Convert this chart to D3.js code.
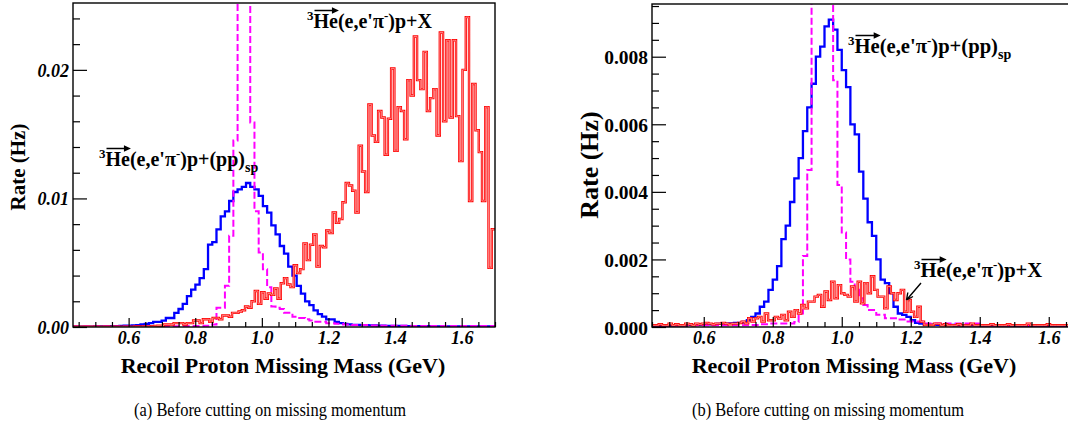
<!DOCTYPE html>
<html><head><meta charset="utf-8">
<script src="https://cdn.jsdelivr.net/npm/d3@7"></script>
<style>
body{margin:0;background:#fff;}
svg{display:block;font-family:"Liberation Serif","Times New Roman",serif;}
</style></head><body>
<svg id="fig" width="1068" height="432"></svg>
<script>
// ---- axis ranges -------------------------------------------------------
const massRangeA = [0.433, 1.7];
const massRangeB = [0.45, 1.7];
const rateMaxA = 0.0252;
const rateMaxB = 0.00956;

const xTickValues = [0.6, 0.8, 1.0, 1.2, 1.4, 1.6];
const yTickValuesA = [0.00, 0.01, 0.02];
const yTickValuesB = [0.000, 0.002, 0.004, 0.006, 0.008];

// ---- panel (a): before cutting on missing momentum ----------------------
// 3He(e,e'pi-)p+(pp)sp, reconstructed (100 bins)
const spectatorRecoA = [
  0.00002,0.00002,0.00003,0.00003,0.00003,0.00004,0.00004,0.00005,0.00005,0.00006,
  0.00007,0.00008,0.0001,0.00011,0.00012,0.00015,0.0002,0.00025,0.0003,0.0004,
  0.0004,0.0005,0.0007,0.0007,0.0011,0.0014,0.0018,0.0024,0.0029,0.0033,
  0.0038,0.0045,0.0064,0.0066,0.0076,0.0086,0.0090,0.0098,0.0105,0.0107,
  0.0109,0.0112,0.0109,0.0107,0.0102,0.0094,0.0089,0.0079,0.0072,0.0063,
  0.0057,0.0047,0.0040,0.0032,0.0026,0.0020,0.0017,0.0013,0.0010,0.0008,
  0.0006,0.0006,0.0004,0.0003,0.00025,0.0002,0.00016,0.00016,0.00015,0.00014,
  0.00013,0.00012,0.00011,0.0001,0.00009,0.00009,0.00008,0.00008,0.00008,0.00007,
  0.00007,0.00007,0.00006,0.00006,0.00006,0.00006,0.00005,0.00005,0.00005,0.00005,
  0.00005,0.00005,0.00004,0.00004,0.00004,0.00004,0.00004,0.00004,0.00004,0.00004
];
// 3He(e,e'pi-)p+(pp)sp, generated (100 bins)
const spectatorGenA = [
  0.00004,0.00004,0.00004,0.00004,0.00004,0.00004,0.00004,0.00004,0.00004,0.00004,
  0.00004,0.00004,0.00004,0.00004,0.00004,0.00004,0.00005,0.00005,0.00005,0.00005,
  0.00005,0.00005,0.00005,0.00006,0.00006,0.00006,0.00006,0.00007,0.00007,0.00008,
  0.00008,0.0001,0.0001,0.0002,0.0015,0.0015,0.0032,0.0071,0.0145,0.034,
  0.041,0.037,0.0159,0.0090,0.0058,0.0045,0.0031,0.0016,0.0015,0.0014,
  0.0011,0.0011,0.0008,0.0007,0.0007,0.0006,0.0005,0.0004,0.0004,0.0004,
  0.0003,0.0003,0.00025,0.00025,0.0002,0.0002,0.00015,0.00015,0.00015,0.00015,
  0.00012,0.00012,0.00012,0.0001,0.0001,0.0001,0.0001,0.00009,0.00009,0.00009,
  0.00008,0.00008,0.00008,0.00008,0.00008,0.00008,0.00007,0.00007,0.00007,0.00007,
  0.00007,0.00007,0.00007,0.00007,0.00007,0.00007,0.00007,0.00007,0.00007,0.00007
];
// 3He(e,e'pi-)p+X (130 bins)
const inclusiveA = [
  0.00002,0.00002,0.00002,0.00002,0.00002,0.00002,0.00002,0.00002,0.00002,0.00002,
  0.00002,0.00002,0.00002,0.00002,0.00002,0.00003,0.00003,0.00003,0.00003,0.00004,
  0.00004,0.00004,0.00005,0.00005,0.00006,0.00008,0.0001,0.0001,0.0002,0.0002,
  0.0002,0.0003,0.0003,0.0003,0.0002,0.0003,0.0003,0.0005,0.0005,0.0003,
  0.0006,0.0006,0.0004,0.0007,0.0007,0.0006,0.0009,0.0009,0.0008,0.0011,
  0.0011,0.0012,0.0013,0.0016,0.0015,0.0020,0.0028,0.0018,0.0027,0.0022,
  0.0026,0.0025,0.0030,0.0022,0.0034,0.0038,0.0033,0.0031,0.0048,0.0042,
  0.0045,0.0065,0.0052,0.0064,0.0072,0.0047,0.0063,0.0062,0.0075,0.0073,
  0.0089,0.0081,0.0084,0.0097,0.0112,0.0110,0.0106,0.0089,0.0141,0.0121,
  0.0105,0.0173,0.0149,0.0144,0.0168,0.0163,0.0134,0.0162,0.0201,0.0137,
  0.0171,0.0168,0.0146,0.0192,0.0180,0.0226,0.0192,0.0185,0.0214,0.0168,
  0.0178,0.0185,0.0149,0.0229,0.0160,0.0223,0.0163,0.0223,0.0164,0.0129,
  0.0200,0.0241,0.0098,0.0189,0.0153,0.0136,0.0098,0.0171,0.0046,0.0076
];

// ---- panel (b) ----------------------------------------------------------
const spectatorRecoB = [
  0.00003,0.00003,0.00004,0.00004,0.00004,0.00005,0.00005,0.00005,0.00006,0.00006,
  0.00006,0.00007,0.00007,0.00008,0.00008,0.00009,0.0001,0.0001,0.00011,0.00012,
  0.00012,0.00015,0.0002,0.0003,0.0004,0.0006,0.00075,0.0011,0.0014,0.0018,
  0.0026,0.0030,0.0037,0.0044,0.0050,0.0058,0.0065,0.0072,0.0080,0.0083,
  0.0089,0.0091,0.0088,0.0082,0.0076,0.0071,0.0060,0.0057,0.0046,0.0038,
  0.0031,0.0027,0.0020,0.0014,0.0013,0.0010,0.0006,0.0004,0.00036,0.0003,
  0.0002,0.00012,0.0001,0.00008,0.00007,0.00007,0.00006,0.00006,0.00006,0.00006,
  0.00005,0.00005,0.00005,0.00005,0.00005,0.00005,0.00004,0.00004,0.00004,0.00004,
  0.00004,0.00004,0.00004,0.00004,0.00003,0.00003,0.00003,0.00003,0.00003,0.00003,
  0.00003,0.00003,0.00003,0.00003,0.00003,0.00003,0.00003,0.00003,0.00003,0.00003
];
const spectatorGenB = [
  0.00005,0.00005,0.00005,0.00005,0.00005,0.00005,0.00005,0.00005,0.00005,0.00005,
  0.00005,0.00005,0.00005,0.00005,0.00005,0.00005,0.00005,0.00005,0.00005,0.00005,
  0.00005,0.00005,0.00005,0.00006,0.00006,0.00008,0.00008,0.0001,0.0001,0.0001,
  0.0001,0.0001,0.0001,0.00015,0.0004,0.0021,0.00465,0.0125,0.0160,0.0175,
  0.0165,0.0120,0.0073,0.0042,0.0028,0.0020,0.00134,0.0011,0.00085,0.00065,
  0.0005,0.0005,0.00036,0.00036,0.00026,0.00026,0.00026,0.00022,0.00022,0.00016,
  0.00016,0.00016,0.00016,0.0001,0.0001,0.0001,0.0001,0.0001,0.0001,0.0001,
  0.0001,0.0001,0.0001,0.0001,0.0001,0.0001,0.00006,0.00006,0.00006,0.00006,
  0.00006,0.00006,0.00006,0.00006,0.00006,0.00006,0.00006,0.00006,0.00006,0.00006,
  0.00006,0.00006,0.00006,0.00006,0.00006,0.00006,0.00006,0.00006,0.00006,0.00006
];
const inclusiveB = [
  0.00005,0.00005,0.00008,0.00005,0.00005,0.0001,0.00005,0.00008,0.00005,0.00005,
  0.0001,0.00008,0.00005,0.0001,0.00008,0.0001,0.00012,0.0001,0.00008,0.0001,
  0.0001,0.00012,0.0001,0.00008,0.0001,0.0001,0.00012,0.00016,0.00011,0.00026,
  0.00016,0.00026,0.0003,0.00016,0.0004,0.0002,0.0002,0.0003,0.00025,0.00036,
  0.0002,0.00045,0.0003,0.0005,0.0004,0.00065,0.00055,0.00075,0.00075,0.0009,
  0.00095,0.0006,0.00105,0.0008,0.00134,0.00085,0.00124,0.0010,0.00095,0.0009,
  0.0012,0.00075,0.00134,0.0007,0.0013,0.0010,0.0015,0.0011,0.0009,0.0009,
  0.00055,0.0012,0.0010,0.0008,0.0010,0.0011,0.00045,0.0008,0.00045,0.0003,
  0.0006,0.00016,0.00006,0.00006,0.00006,0.0001,0.0001,0.00005,0.00008,0.00005,
  0.00005,0.00005,0.00008,0.00005,0.00005,0.00005,0.0001,0.00005,0.00005,0.00005,
  0.00005,0.00005,0.00008,0.00005,0.00005,0.00005,0.00005,0.00008,0.00005,0.00005,
  0.00005,0.00005,0.00005,0.0001,0.00005,0.00005,0.00005,0.00005,0.00005,0.00008,
  0.00005,0.00005,0.00005,0.00005,0.00005,0.00005,0.00005,0.00005,0.00005,0.00005
];

// ---- helpers ------------------------------------------------------------
const svg = d3.select("#fig");
const BLUE = "#0000ff", MAGENTA = "#ff00ff", RED = "#ff0000";

function binEdges(range, n) {
  return d3.range(n + 1).map(i => range[0] + (range[1] - range[0]) * i / n);
}

// histogram outline as a step path
function histPath(x, y, range, values) {
  const e = binEdges(range, values.length);
  const pts = values.map((v, i) => [e[i], v]);
  pts.push([e[values.length], values[values.length - 1]]);
  return d3.line().x(d => x(d[0])).y(d => y(d[1])).curve(d3.curveStepAfter)(pts);
}

function minorValues(lo, hi, step, majors) {
  const out = [];
  for (let v = Math.ceil(lo / step - 1e-9) * step; v <= hi + 1e-9; v += step) {
    const r = +v.toFixed(6);
    if (!majors.some(m => Math.abs(m - r) < 1e-9)) out.push(r);
  }
  return out;
}

// reaction label: superscript 3, arrowed He, pi-minus, optional subscript
function reaction(g, x0, y0, tail, sub, size) {
  const t = g.append("text").attr("x", x0).attr("y", y0)
    .attr("font-weight", "bold").attr("fill", "#000");
  t.append("tspan").attr("y", y0 - 8).attr("font-size", 13).text("3");
  t.append("tspan").attr("y", y0).attr("font-size", size).text("He(e,e'\u03c0");
  t.append("tspan").attr("y", y0 - 8).attr("font-size", 13).text("-");
  t.append("tspan").attr("y", y0).attr("font-size", size).text(")p+" + tail);
  if (sub) t.append("tspan").attr("y", y0 + 6).attr("font-size", 14).text(sub);
  const node = t.node();
  const h = node.getExtentOfChar(1), e = node.getExtentOfChar(2);
  const ax0 = h.x + 1, ax1 = e.x + e.width + 1, ay = h.y + 0.5;
  g.append("line").attr("x1", ax0).attr("x2", ax1 - 4).attr("y1", ay).attr("y2", ay)
    .attr("stroke", "#000").attr("stroke-width", 1.5);
  g.append("path")
    .attr("d", `M${ax1},${ay} L${ax1 - 7},${ay - 3.2} L${ax1 - 7},${ay + 3.2} Z`)
    .attr("fill", "#000");
}

function drawPanel(p) {
  const x = d3.scaleLinear().domain(p.xDomain).range([p.left, p.right]);
  const y = d3.scaleLinear().domain([0, p.yMax]).range([p.bottom, p.top]);
  const g = svg.append("g");
  const clipId = "clip-" + p.id;
  svg.append("clipPath").attr("id", clipId).append("rect")
    .attr("x", p.left).attr("y", p.top)
    .attr("width", p.right - p.left).attr("height", p.bottom - p.top);

  // histograms
  const h = g.append("g").attr("clip-path", `url(#${clipId})`).attr("fill", "none");
  h.append("path").attr("d", histPath(x, y, p.xDomain, p.reco))
    .attr("stroke", BLUE).attr("stroke-width", 2.3);
  h.append("path").attr("d", histPath(x, y, p.xDomain, p.gen))
    .attr("stroke", MAGENTA).attr("stroke-width", 2).attr("stroke-dasharray", "7,3");
  const redD = histPath(x, y, p.xDomain, p.incl);
  h.append("path").attr("d", redD).attr("stroke", RED).attr("stroke-width", 2.4);
  h.append("path").attr("d", redD).attr("stroke", "#ffb4b4").attr("stroke-width", 0.7);

  // frame
  g.append("rect").attr("x", p.left).attr("y", p.top)
    .attr("width", p.right - p.left).attr("height", p.bottom - p.top)
    .attr("fill", "none").attr("stroke", "#000").attr("stroke-width", 1.4);

  // x axis: major + minor ticks pointing into the frame
  const xMinor = minorValues(p.xDomain[0], p.xDomain[1], 0.05, xTickValues);
  g.append("g").attr("transform", `translate(0,${p.bottom})`)
    .call(d3.axisBottom(x).tickValues(xMinor).tickSize(-p.xMinorLen).tickFormat(""))
    .call(a => a.select(".domain").remove())
    .call(a => a.selectAll("line").attr("stroke", "#000").attr("stroke-width", 1.2));
  g.append("g").attr("transform", `translate(0,${p.bottom})`)
    .call(d3.axisBottom(x).tickValues(xTickValues).tickSize(-p.xMajorLen)
      .tickFormat(d3.format(".1f")))
    .call(a => a.select(".domain").remove())
    .call(a => a.selectAll("line").attr("stroke", "#000").attr("stroke-width", 1.2))
    .call(a => a.selectAll("text").attr("y", 17).attr("dy", 0)
      .attr("font-family", "Liberation Serif").attr("font-size", 18)
      .attr("font-weight", "bold").attr("font-style", "italic").attr("fill", "#000"));

  // y axis
  const yMinor = minorValues(0, p.yMax, p.yMinorStep, p.yTicks);
  g.append("g").attr("transform", `translate(${p.left},0)`)
    .call(d3.axisLeft(y).tickValues(yMinor).tickSize(-7).tickFormat(""))
    .call(a => a.select(".domain").remove())
    .call(a => a.selectAll("line").attr("stroke", "#000").attr("stroke-width", 1.2));
  g.append("g").attr("transform", `translate(${p.left},0)`)
    .call(d3.axisLeft(y).tickValues(p.yTicks).tickSize(-14).tickPadding(p.yPad)
      .tickFormat(d3.format(p.yFormat)))
    .call(a => a.select(".domain").remove())
    .call(a => a.selectAll("line").attr("stroke", "#000").attr("stroke-width", 1.2))
    .call(a => a.selectAll("text").attr("dy", "0.36em")
      .attr("font-family", "Liberation Serif").attr("font-size", p.yLabelSize)
      .attr("font-weight", "bold").attr("font-style", p.yItalic ? "italic" : "normal")
      .attr("fill", "#000"));

  // titles
  g.append("text").attr("transform", `translate(${p.yTitleX},${p.yTitleY}) rotate(-90)`)
    .attr("text-anchor", "middle").attr("font-weight", "bold")
    .attr("font-size", p.yTitleSize).text("Rate (Hz)");
  g.append("text").attr("x", p.xTitleX).attr("y", 373).attr("text-anchor", "middle")
    .attr("font-weight", "bold").attr("font-size", 22)
    .text("Recoil Proton Missing Mass (GeV)");
  g.append("text").attr("x", p.captionX).attr("y", 416).attr("text-anchor", "middle")
    .attr("font-size", 18).attr("textLength", 272).attr("lengthAdjust", "spacingAndGlyphs")
    .text(p.caption);
  return g;
}

// ---- panel (a) ----
const ga = drawPanel({
  id: "a", xDomain: massRangeA, yMax: rateMaxA,
  left: 73, right: 495, top: 3, bottom: 327,
  reco: spectatorRecoA, gen: spectatorGenA, incl: inclusiveA,
  yTicks: yTickValuesA, yMinorStep: 0.002, yFormat: ".2f", yItalic: true,
  yLabelSize: 18, yPad: 4, xMajorLen: 9, xMinorLen: 5,
  yTitleX: 25, yTitleY: 167, yTitleSize: 21,
  xTitleX: 283, captionX: 270,
  caption: "(a) Before cutting on missing momentum"
});
reaction(ga, 99, 166, "(pp)", "sp", 20);
reaction(ga, 307, 28, "X", null, 20);

// ---- panel (b) ----
const gb = drawPanel({
  id: "b", xDomain: massRangeB, yMax: rateMaxB,
  left: 652, right: 652 + (massRangeB[1] - massRangeB[0]) * 345, top: 4, bottom: 327,
  reco: spectatorRecoB, gen: spectatorGenB, incl: inclusiveB,
  yTicks: yTickValuesB, yMinorStep: 0.0005, yFormat: ".3f", yItalic: false,
  yLabelSize: 19.5, yPad: 4, xMajorLen: 10, xMinorLen: 5,
  yTitleX: 598, yTitleY: 165, yTitleSize: 26,
  xTitleX: 854, captionX: 828,
  caption: "(b) Before cutting on missing momentum"
});
reaction(gb, 848, 53, "(pp)", "sp", 20.6);
reaction(gb, 914, 277, "X", null, 20.6);
// pointer from the p+X label to its histogram
gb.append("path").attr("d", "M921,283 L906.5,300 M906.5,300 L907.8,292.5 M906.5,300 L913,296.5")
  .attr("fill", "none").attr("stroke", "#000").attr("stroke-width", 1.4);
</script>
</body></html>
